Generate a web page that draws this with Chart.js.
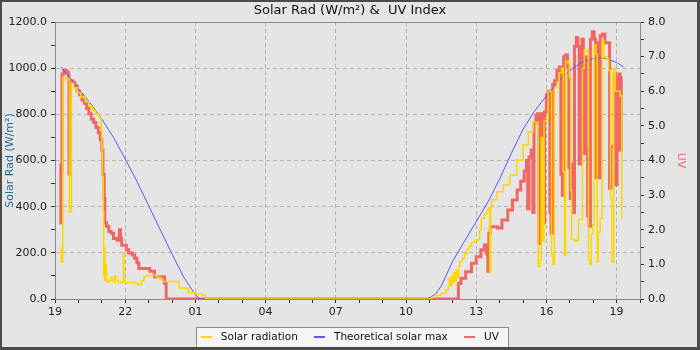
<!DOCTYPE html>
<html>
<head>
<meta charset="utf-8">
<script src="https://cdn.jsdelivr.net/npm/chart.js@4.4.1/dist/chart.umd.min.js"></script>
<style>
  html, body { margin: 0; padding: 0; background: #e5e5e5; }
</style>
</head>
<body>
<canvas id="solarChart" width="700" height="350"></canvas>
<script>
// Години від 19:00 першого дня (вісь X лінійна, 0..25)
const hourLabels = ['19', '22', '01', '04', '07', '10', '13', '16', '19'];

// Сонячна радіація, W/m²
const solarHours = [0.23, 0.27, 0.33, 0.45, 0.60, 0.62, 0.70, 0.80, 0.95, 1.10, 1.30, 1.45, 1.60, 1.75, 1.88, 1.97, 2.00, 2.03, 2.06, 2.08,
  2.10, 2.13, 2.17, 2.20, 2.30, 2.40, 2.45, 2.55, 2.60, 2.70, 2.90, 2.92, 2.95, 3.00, 3.30, 3.40, 3.55, 3.70, 3.80, 3.90,
  4.35, 4.50, 4.60, 5.30, 5.70, 6.00, 6.30, 6.45,
  15.85, 16.10, 16.30, 16.50, 16.70, 16.80, 16.85, 16.90, 16.95, 17.00, 17.05, 17.10, 17.15, 17.20, 17.25, 17.30, 17.40, 17.50,
  17.60, 17.70, 17.80, 17.95, 18.10, 18.15, 18.22, 18.35, 18.45, 18.55, 18.58, 18.62, 18.66, 18.88, 19.16, 19.44, 19.73, 20.01,
  20.23, 20.44, 20.55, 20.65, 20.72, 20.78, 20.84, 20.90, 21.00, 21.08, 21.16, 21.22, 21.28, 21.34, 21.45, 21.55, 21.65, 21.72,
  21.77, 21.82, 21.92, 21.98, 22.04, 22.08, 22.20, 22.30, 22.37, 22.48, 22.54, 22.62, 22.72, 22.80, 22.86, 22.92, 22.98, 23.04,
  23.12, 23.17, 23.22, 23.30, 23.38, 23.46, 23.56, 23.66, 23.74, 23.80, 23.88, 23.95, 24.15, 24.22, 24.24];
const solarValues = [220, 160, 960, 950, 955, 378, 935, 915, 895, 875, 855, 835, 815, 800, 785, 740, 650, 530, 380, 100,
  220, 80, 150, 75, 80, 95, 75, 100, 80, 72, 75, 198, 80, 70, 75, 68, 62, 80, 95, 102,
  95, 85, 76, 48, 27, 22, 15, 0,
  0, 8, 15, 25, 40, 55, 90, 60, 100, 70, 115, 80, 125, 95, 140, 160, 175, 195,
  215, 230, 245, 255, 260, 300, 350, 370, 385, 395, 115, 400, 430, 465, 494, 537, 602, 667,
  725, 768, 765, 140, 170, 700, 250, 770, 780, 900, 900, 190, 150, 915, 940, 980, 1000, 550,
  190, 1025, 1030, 960, 470, 260, 250, 255, 345, 345, 1000, 1080, 1070, 170, 150, 280, 320, 1100,
  1060, 160, 290, 350, 1120, 1050, 1040, 990, 440, 160, 1000, 900, 880, 350, 350];

// Теоретичний максимум, W/m²
const theoHours = [0.25, 0.5, 0.75, 1.0, 1.5, 2.0, 2.5, 3.0, 3.5, 4.0, 4.5, 5.0, 5.5, 6.0, 6.2,
  15.9, 16.25, 16.5, 17.0, 17.5, 18.0, 18.5, 19.0, 19.5, 20.0, 20.5, 21.0, 21.5, 22.0, 22.5, 23.0, 23.3, 23.5, 24.0, 24.3];
const theoValues = [1005, 975, 945, 912, 850, 780, 700, 607, 510, 405, 300, 195, 95, 18, 0,
  0, 20, 55, 165, 250, 335, 420, 520, 630, 735, 815, 880, 940, 990, 1025, 1042, 1045, 1043, 1025, 1005];

// UV індекс
const uvHours = [0.22, 0.25, 0.28, 0.30, 0.38, 0.50, 0.58, 0.60, 0.66, 0.75, 0.85, 0.95, 1.05, 1.15, 1.25, 1.35, 1.45, 1.55, 1.65, 1.75,
  1.85, 1.93, 2.00, 2.05, 2.10, 2.13, 2.20, 2.30, 2.40, 2.50, 2.65, 2.75, 2.80, 2.85, 2.95, 3.05, 3.15, 3.30, 3.40, 3.50,
  3.58, 4.05, 4.25, 4.68, 4.75,
  17.24, 17.35, 17.55, 17.80, 18.00, 18.20, 18.35, 18.45, 18.50, 18.54, 18.60, 18.90, 19.10, 19.35, 19.55, 19.75, 19.90, 20.05,
  20.15, 20.20, 20.26, 20.35, 20.42, 20.47, 20.55, 20.62, 20.68, 20.74, 20.80, 20.86, 20.92, 21.00, 21.08, 21.15, 21.20, 21.27,
  21.35, 21.45, 21.55, 21.62, 21.68, 21.74, 21.82, 21.90, 21.96, 22.02, 22.08, 22.14, 22.20, 22.28, 22.34, 22.40, 22.46, 22.52,
  22.58, 22.64, 22.70, 22.76, 22.82, 22.88, 22.96, 23.04, 23.10, 23.16, 23.24, 23.30, 23.40, 23.50, 23.60, 23.70, 23.76, 23.84,
  23.90, 23.96, 24.02, 24.10, 24.15, 24.20, 24.25];
const uvValues = [3.9, 2.2, 3.7, 6.5, 6.6, 6.55, 6.45, 3.6, 6.3, 6.25, 6.15, 6.0, 5.9, 5.75, 5.65, 5.5, 5.35, 5.2, 5.1, 4.95,
  4.8, 4.6, 4.3, 3.6, 2.9, 2.2, 2.1, 1.95, 1.9, 1.75, 1.7, 2.0, 1.75, 1.55, 1.55, 1.42, 1.33, 1.27, 1.18, 1.05,
  0.88, 0.8, 0.64, 0.45, 0,
  0.45, 0.6, 0.79, 1.03, 1.22, 1.42, 1.56, 1.3, 0.8, 1.9, 2.09, 2.05, 2.28, 2.57, 2.86, 3.15, 3.4, 3.7,
  4.0, 2.6, 4.1, 4.3, 2.5, 5.1, 5.3, 5.35, 1.6, 5.3, 5.35, 2.2, 5.4, 5.9, 6.0, 2.5, 1.9, 6.2,
  6.3, 6.6, 6.7, 3.6, 3.0, 7.0, 7.05, 6.7, 3.8, 2.9, 3.9, 2.5, 7.3, 7.55, 7.3, 3.9, 7.1, 7.5,
  4.2, 7.0, 4.3, 2.4, 2.1, 7.5, 7.72, 7.5, 3.5, 7.4, 3.5, 7.6, 7.65, 7.4, 7.4, 3.2, 4.4, 4.4,
  6.5, 3.3, 6.4, 6.5, 4.3, 6.4, 6.4];

const toPoints = (hours, values) => hours.map((h, i) => ({ x: h, y: values[i] }));

Chart.defaults.font.family = "'DejaVu Sans', sans-serif";
Chart.defaults.font.size = 11;
Chart.defaults.color = '#222';

// Маркер легенди: коротка лінія
function lineMarker(color) {
    const c = document.createElement('canvas');
    c.width = 15;
    c.height = 2;
    const g = c.getContext('2d');
    g.fillStyle = color;
    g.fillRect(0, 0, 11, 2);
    return c;
}

const frameColor = '#8a8a8a';
const gridColor = '#b5b5b5';
const noColor = 'rgba(0,0,0,0)';

// Фон, рамка легенди і рамка картинки
const decor = {
    id: 'decor',
    beforeDraw(chart) {
        const ctx = chart.ctx;
        ctx.save();
        ctx.fillStyle = '#e5e5e5';
        ctx.fillRect(0, 0, chart.width, chart.height);
        const boxes = chart.legend.legendHitBoxes;
        if (boxes && boxes.length) {
            const first = boxes[0], last = boxes[boxes.length - 1];
            const cy = first.top + first.height / 2;
            const x0 = Math.round(first.left - 5) + 0.5;
            const x1 = Math.round(last.left + last.width + 9) + 0.5;
            const y0 = Math.round(cy - 10) + 0.5;
            ctx.fillStyle = '#f5f5f5';
            ctx.fillRect(x0, y0, x1 - x0, 20);
            ctx.strokeStyle = '#8c8c8c';
            ctx.lineWidth = 1;
            ctx.strokeRect(x0, y0, x1 - x0, 20);
        }
        ctx.restore();
    },
    beforeDatasetsDraw(chart) {
        const { ctx, chartArea } = chart;
        ctx.save();
        ctx.strokeStyle = frameColor;
        ctx.lineWidth = 1;
        ctx.beginPath();
        ctx.moveTo(chartArea.left, Math.round(chartArea.top) + 0.5);
        ctx.lineTo(chartArea.right, Math.round(chartArea.top) + 0.5);
        ctx.stroke();
        ctx.restore();
    },
    afterDraw(chart) {
        const ctx = chart.ctx;
        ctx.save();
        ctx.fillStyle = '#4a4a4a';
        ctx.fillRect(0, 0, chart.width, 2);
        ctx.fillRect(0, 0, 2, chart.height);
        ctx.fillRect(chart.width - 3, 0, 3, chart.height);
        ctx.fillRect(0, chart.height - 3, chart.width, 3);
        ctx.restore();
    }
};

new Chart(document.getElementById('solarChart').getContext('2d'), {
    type: 'line',
    plugins: [decor],
    data: {
        datasets: [
            {
                label: 'Solar radiation',
                data: toPoints(solarHours, solarValues),
                yAxisID: 'y',
                borderColor: '#ffd700',
                borderWidth: 1.5,
                stepped: true,
                pointRadius: 0,
                order: 0
            },
            {
                label: 'Theoretical solar max',
                data: toPoints(theoHours, theoValues),
                yAxisID: 'y',
                borderColor: '#5a5aff',
                borderWidth: 1,
                pointRadius: 0,
                order: 1
            },
            {
                label: 'UV',
                data: toPoints(uvHours, uvValues),
                yAxisID: 'uv',
                borderColor: '#f26666',
                borderWidth: 3,
                stepped: true,
                pointRadius: 0,
                order: 2
            }
        ]
    },
    options: {
        responsive: false,
        animation: false,
        devicePixelRatio: 1,
        events: [],
        layout: { padding: { top: 0, left: 0, right: 0, bottom: -2.5 } },
        plugins: {
            title: {
                display: true,
                text: 'Solar Rad (W/m²) &  UV Index',
                color: '#111',
                font: { size: 13, weight: 'normal' },
                padding: { top: 3, bottom: 3.4 }
            },
            legend: {
                position: 'bottom',
                labels: {
                    usePointStyle: true,
                    pointStyleWidth: 14.5,
                    padding: 16.5,
                    color: '#111',
                    font: { size: 10.5 },
                    generateLabels: (chart) => Chart.defaults.plugins.legend.labels.generateLabels(chart).map(item => {
                        item.pointStyle = lineMarker(item.strokeStyle);
                        return item;
                    })
                }
            },
            tooltip: { enabled: false }
        },
        scales: {
            x: {
                type: 'linear',
                min: 0,
                max: 25,
                afterFit: (s) => { s.height = 16.5; },
                ticks: {
                    stepSize: 1,
                    autoSkip: false,
                    maxRotation: 0,
                    padding: 3,
                    color: '#222',
                    callback: (v) => v % 3 === 0 ? hourLabels[v / 3] : ''
                },
                grid: {
                    color: (c) => (c.tick && c.tick.value % 3 === 0) ? gridColor : noColor,
                    tickColor: '#333',
                    tickLength: 4
                },
                border: { color: frameColor, dash: [4, 3] }
            },
            y: {
                position: 'left',
                min: 0,
                max: 1200,
                afterFit: (s) => { s.width = 55; },
                ticks: {
                    stepSize: 100,
                    autoSkip: false,
                    padding: 4,
                    color: '#222',
                    callback: (v) => v % 200 === 0 ? v.toFixed(1) : ''
                },
                grid: {
                    color: (c) => (c.tick && c.tick.value % 200 === 0 && c.tick.value > 0 && c.tick.value < 1200) ? gridColor : noColor,
                    tickColor: '#333',
                    tickLength: 4
                },
                border: { color: frameColor, dash: [4, 3] },
                title: {
                    display: true,
                    text: 'Solar Rad (W/m²)',
                    color: '#1f6b9e',
                    font: { size: 11 },
                    padding: { top: 4, bottom: 0 }
                }
            },
            uv: {
                position: 'right',
                min: 0,
                max: 8,
                afterFit: (s) => { s.width = 60; },
                ticks: {
                    stepSize: 0.5,
                    autoSkip: false,
                    padding: 4,
                    color: '#222',
                    callback: (v) => Number.isInteger(v) ? v.toFixed(1) : ''
                },
                grid: {
                    drawOnChartArea: false,
                    tickColor: '#333',
                    tickLength: 4
                },
                border: { color: frameColor },
                title: {
                    display: true,
                    text: 'UV',
                    color: '#f26666',
                    font: { size: 11 },
                    padding: { top: 12.4, bottom: 0 }
                }
            }
        }
    }
});
</script>
</body>
</html>
